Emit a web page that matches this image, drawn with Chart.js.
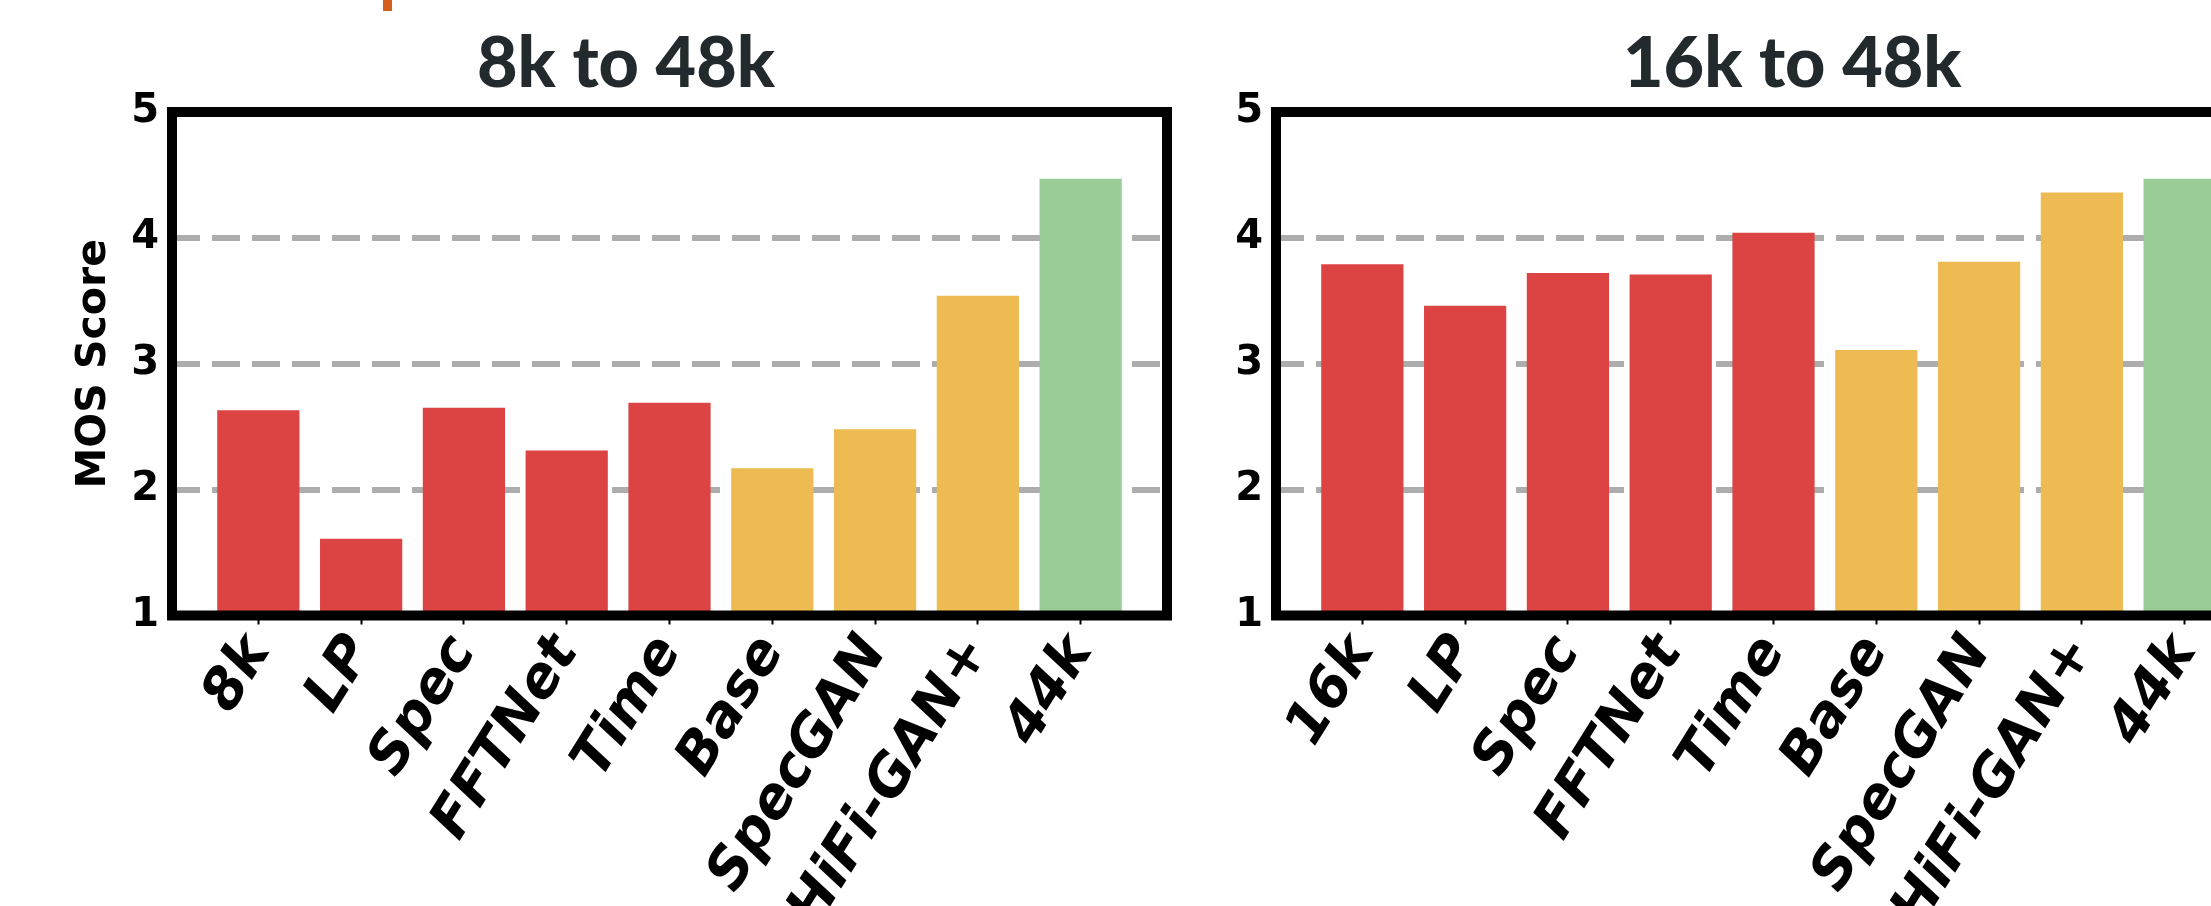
<!DOCTYPE html>
<html>
<head>
<meta charset="utf-8">
<title>MOS Score: 8k to 48k and 16k to 48k</title>
<script src="https://cdn.jsdelivr.net/npm/chart.js@4"></script>
<style>
  html, body { margin: 0; padding: 0; background: #fff; overflow: hidden; width: 2211px; height: 906px; }
  .panel { position: absolute; top: 0; width: 1200px; height: 906px; }
  #accent { position: absolute; left: 383px; top: 0; width: 9px; height: 11px; background: #d2601a; }
</style>
</head>
<body>
<div id="accent"></div>
<div class="panel" style="left:0"><canvas id="upsample8k" width="1200" height="906"></canvas></div>
<div class="panel" style="left:1104px"><canvas id="upsample16k" width="1200" height="906"></canvas></div>
<script>
// Mean opinion scores per method
const categories8k = ['8k', 'LP', 'Spec', 'FFTNet', 'Time', 'Base', 'SpecGAN', 'HiFi-GAN+', '44k'];
const scores8k = [2.63, 1.61, 2.65, 2.31, 2.69, 2.17, 2.48, 3.54, 4.47];

const categories16k = ['16k', 'LP', 'Spec', 'FFTNet', 'Time', 'Base', 'SpecGAN', 'HiFi-GAN+', '44k'];
const scores16k = [3.79, 3.46, 3.72, 3.71, 4.04, 3.11, 3.81, 4.36, 4.47];

// Method family of each bar (same order in both panels)
const methodGroups = ['baseline', 'baseline', 'baseline', 'baseline', 'baseline', 'gan', 'gan', 'gan', 'reference'];

const yTickValues = [1, 2, 3, 4, 5];
const gridValues = [2, 3, 4];

const groupColors = { baseline: '#dc4444', gan: '#edbb52', reference: '#9acc98' };

// Thick black box around the plotting area
const framePlugin = {
  id: 'frame',
  afterDatasetsDraw(chart, args, opts) {
    const { ctx, chartArea: a } = chart;
    ctx.save();
    ctx.lineWidth = opts.width;
    ctx.strokeStyle = opts.color;
    ctx.strokeRect(a.left, a.top, a.right - a.left, a.bottom - a.top);
    ctx.restore();
  }
};

// Panel heading
const headingPlugin = {
  id: 'heading',
  afterDraw(chart, args, opts) {
    const { ctx } = chart;
    ctx.save();
    ctx.font = opts.font;
    ctx.fillStyle = opts.color;
    ctx.textAlign = 'left';
    ctx.textBaseline = 'alphabetic';
    ctx.fillText(opts.text, opts.x, opts.y);
    ctx.restore();
  }
};

function makePanel(canvasId, heading, headingX, categories, scores, showAxisTitle) {
  const data = categories.map((c, i) => ({ x: i, y: scores[i] }));
  return new Chart(document.getElementById(canvasId), {
    type: 'bar',
    data: {
      datasets: [{
        data,
        backgroundColor: methodGroups.map(g => groupColors[g]),
        borderWidth: 0,
        barPercentage: 0.8,
        categoryPercentage: 1.0
      }]
    },
    plugins: [framePlugin, headingPlugin],
    options: {
      responsive: false,
      animation: false,
      layout: { padding: { top: 112, left: 0, right: 33, bottom: 0 } },
      scales: {
        x: {
          type: 'linear',
          min: -0.84,
          max: 8.84,
          offset: false,
          afterBuildTicks: s => { s.ticks = categories.map((c, i) => ({ value: i })); },
          afterFit: s => { s.height = 906 - 615.5; },
          grid: { display: true, offset: false, drawOnChartArea: false, drawTicks: true, tickLength: 9, tickWidth: 2, tickColor: '#000' },
          border: { display: false },
          ticks: {
            autoSkip: false,
            minRotation: 58,
            maxRotation: 58,
            padding: 0,
            color: '#000',
            font: { family: 'DejaVu Sans', weight: 'bold', style: 'italic', size: 56 },
            callback: (v, i) => categories[i]
          }
        },
        y: {
          min: 1,
          max: 5,
          beginAtZero: false,
          afterBuildTicks: s => { s.ticks = yTickValues.map(v => ({ value: v })); },
          afterFit: s => { s.width = 172; },
          grid: {
            drawTicks: false,
            lineWidth: 6,
            color: c => (c.tick && gridValues.includes(c.tick.value)) ? '#adadad' : 'rgba(0,0,0,0)'
          },
          border: { display: false, dash: [28, 12] },
          ticks: {
            padding: 13,
            color: '#000',
            font: { family: 'DejaVu Sans', weight: 'bold', size: 40 }
          },
          title: {
            display: showAxisTitle,
            text: 'MOS Score',
            color: '#000',
            font: { family: 'DejaVu Sans', weight: 'bold', size: 41 },
            padding: { top: 70, bottom: 0 }
          }
        }
      },
      plugins: {
        legend: { display: false },
        tooltip: { enabled: false },
        frame: { width: 10, color: '#000' },
        heading: { text: heading, x: headingX, y: 87, font: '900 70px Lato', color: '#222a2d' }
      }
    }
  });
}

makePanel('upsample8k', '8k to 48k', 477, categories8k, scores8k, true);
makePanel('upsample16k', '16k to 48k', 519, categories16k, scores16k, false);
</script>
</body>
</html>
